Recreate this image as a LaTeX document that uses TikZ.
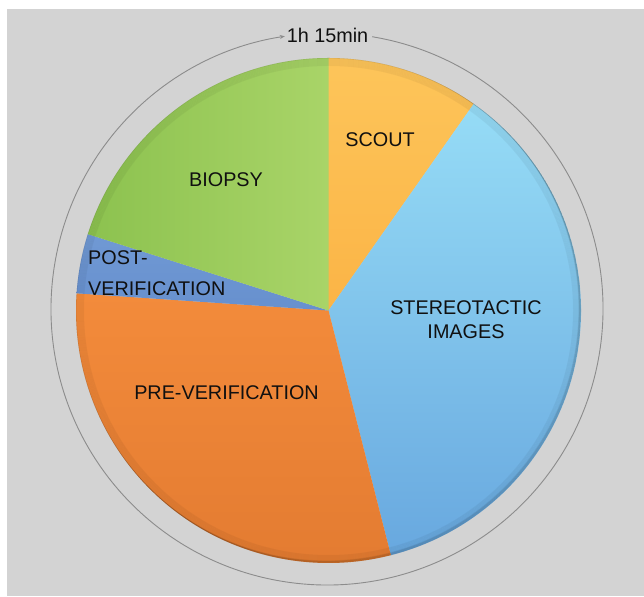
\documentclass[tikz,border=0pt]{standalone}
\usepackage{fontspec}
\setmainfont{Liberation Sans}
\usetikzlibrary{arrows.meta}
\definecolor{bgray}{HTML}{D3D3D3}
\definecolor{ringgray}{HTML}{8C8C8C}
\definecolor{scoutA}{HTML}{FDC55A}
\definecolor{scoutB}{HTML}{FBB446}
\definecolor{stereoA}{HTML}{96DCF6}
\definecolor{stereoB}{HTML}{68A8DF}
\definecolor{preA}{HTML}{F38B3B}
\definecolor{preB}{HTML}{E37B31}
\definecolor{postA}{HTML}{7099D4}
\definecolor{postB}{HTML}{6790CE}
\definecolor{bioA}{HTML}{8CC24F}
\definecolor{bioB}{HTML}{A9D468}
\definecolor{txt}{HTML}{101010}
\begin{document}
\begin{tikzpicture}[x=1pt,y=1pt,
  lbl/.style={text=txt,font=\fontsize{19.8}{24}\selectfont,inner sep=0pt},
  ring/.style={ringgray,line width=0.9pt}]
\useasboundingbox (0,0) rectangle (644,596);
\fill[white] (0,0) rectangle (644,596);
\fill[bgray] (7,0) rectangle (644,587);
\coordinate (c) at (328.5,285.5);
\coordinate (oc) at (327,287);
% slices
\shade[top color=scoutA,bottom color=scoutB] (c) -- ([shift={(54.9:252.5pt)}]c) arc[start angle=54.9,end angle=90,radius=252.5pt] -- cycle;
\shade[top color=stereoA,bottom color=stereoB] (c) -- ([shift={(-75.7:252.5pt)}]c) arc[start angle=-75.7,end angle=54.9,radius=252.5pt] -- cycle;
\shade[top color=preA,bottom color=preB] (c) -- ([shift={(176.1:252.5pt)}]c) arc[start angle=176.1,end angle=284.3,radius=252.5pt] -- cycle;
\shade[top color=postA,bottom color=postB] (c) -- ([shift={(162.4:252.5pt)}]c) arc[start angle=162.4,end angle=176.1,radius=252.5pt] -- cycle;
\shade[left color=bioA,right color=bioB] (c) -- ([shift={(90:252.5pt)}]c) arc[start angle=90,end angle=162.4,radius=252.5pt] -- cycle;
% edge darkening
\foreach \i in {0,...,7}{
  \draw[black,opacity=0.045,line width=1pt] (c) circle[radius=252pt-\i pt];
}
\begin{scope}
\clip (c) circle[radius=252.5pt];
\foreach \i in {0,...,5}{
  \draw[black,opacity=0.05,line width=1.2pt] ([shift={(-2pt+\i*0.4pt,2pt-\i*0.4pt)}]c) circle[radius=252.5pt];
}
\end{scope}
% outer ring with arrow
\draw[ring,-{Stealth[length=5pt,width=4pt]}] ([shift={(80.6:276pt)}]oc) arc[start angle=80.6,end angle=-261.2,radius=276pt];
% labels
\node[lbl] (total) at (327.5,561) {1h 15min};
\node[lbl] (scout) at (380,456.5) {SCOUT};
\node[lbl,align=center] (stereo) at (466,276) {STEREOTACTIC\\IMAGES};
\node[lbl] (biopsy) at (226,416) {BIOPSY};
\node[lbl,align=left,anchor=west,font=\fontsize{19.8}{30.5}\selectfont] (post) at (88,323) {POST-\\VERIFICATION};
\node[lbl] (pre) at (226.5,203) {PRE-VERIFICATION};
\end{tikzpicture}
\end{document}
